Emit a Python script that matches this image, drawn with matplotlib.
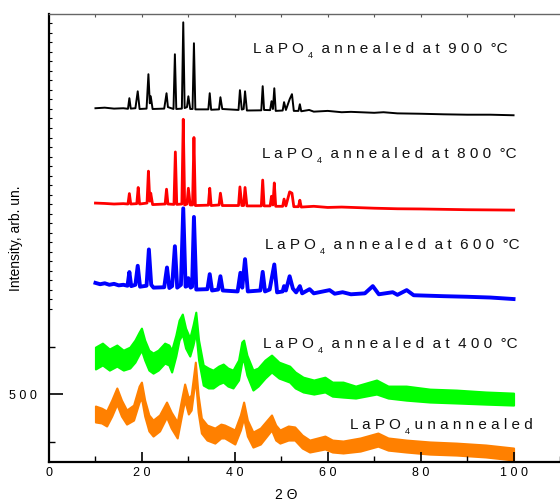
import matplotlib
matplotlib.use("Agg")
import matplotlib.pyplot as plt

plt.rcParams["font.family"] = ["Liberation Sans", "DejaVu Sans"]

# 2theta / intensity (vertices of each trace)
x_900 = [10, 12, 14, 16, 17.0, 17.3, 17.6, 18.6, 19.1, 19.5, 21.0, 21.4, 21.7, 21.9, 22.3,
         24.8, 25.3, 25.6, 26.8, 27.1, 27.4, 28.6, 28.9, 29.2, 29.7, 30.0, 30.4, 30.9,
         31.2, 31.5, 34.3, 34.6, 34.9, 36.6, 36.9, 37.3, 40.8, 41.1, 41.5, 41.9, 42.2,
         42.6, 45.7, 46.0, 46.3, 47.6, 47.9, 48.2, 48.5, 48.8, 50.3, 50.6, 51.0, 51.8,
         52.3, 52.7, 53.7, 54.0, 54.3, 56, 57, 60, 63, 65, 70, 72, 75, 80, 85, 90, 95, 100]
y_900 = [2004, 2007, 2002, 2004, 2001, 2057, 2002, 2004, 2093, 2000, 2002, 2183, 2030, 2067, 2000,
         2002, 2083, 2010, 2000, 2288, 2000, 2002, 2456, 2005, 2010, 2067, 2000, 2000,
         2346, 1998, 1998, 2083, 1996, 1998, 2062, 2000, 1995, 2099, 1997, 2000, 2093,
         1992, 1993, 2120, 1995, 1994, 2041, 2000, 2109, 1990, 1992, 2036, 1995, 2051,
         2078, 1990, 1990, 2025, 1988, 1995, 1986, 1990, 1983, 1985, 1980, 1983, 1977, 1975, 1972, 1970, 1970, 1967]

x_800 = [10, 12, 14, 16, 17.0, 17.3, 17.6, 18.9, 19.2, 19.5, 21.1, 21.4, 21.7, 21.9, 22.3,
         25.0, 25.3, 25.6, 26.9, 27.2, 27.5, 28.6, 28.9, 29.2, 29.7, 30.0, 30.4, 30.9,
         31.2, 31.5, 34.3, 34.6, 34.9, 36.6, 36.9, 37.3, 40.8, 41.1, 41.5, 41.9, 42.2,
         42.6, 45.7, 46.0, 46.3, 47.6, 47.9, 48.2, 48.5, 48.8, 50.3, 50.6, 51.0, 51.8,
         52.3, 52.7, 53.7, 54.0, 54.3, 57, 60, 63, 70, 75, 80, 90, 100]
y_800 = [1505, 1503, 1500, 1502, 1500, 1555, 1500, 1502, 1587, 1500, 1505, 1673, 1515, 1557, 1497,
         1500, 1578, 1500, 1498, 1774, 1498, 1500, 1946, 1495, 1500, 1583, 1495, 1495,
         1850, 1492, 1494, 1583, 1492, 1495, 1557, 1492, 1492, 1590, 1492, 1492, 1587,
         1490, 1490, 1626, 1490, 1490, 1541, 1495, 1611, 1488, 1488, 1526, 1490, 1564,
         1557, 1486, 1486, 1520, 1484, 1488, 1482, 1484, 1478, 1475, 1474, 1470, 1468]

x_600 = [10, 11, 12, 13, 14, 15, 16, 16.9, 17.3, 17.7, 18.6, 19.1, 19.6, 21.0, 21.5, 22.0, 22.5,
         24.8, 25.4, 25.9, 26.5, 27.1, 27.6, 28.4, 28.9, 29.4, 29.8, 30.0, 30.5, 30.8, 31.2,
         31.7, 34.1, 34.6, 35.1, 36.4, 36.9, 37.4, 40.6, 41.2, 41.6, 42.2, 42.8, 45.5, 46.0,
         46.5, 47.5, 48.5, 49.1, 50.3, 50.6, 51.0, 51.8, 52.5, 53.2, 54.0, 54.5, 56.1, 57,
         60.4, 61.5, 63.2, 65, 68, 69.7, 71, 74, 75, 77, 78.5, 85, 90, 95, 100]
y_600 = [1085, 1078, 1083, 1075, 1080, 1072, 1075, 1070, 1142, 1068, 1075, 1175, 1065, 1070, 1261, 1075, 1060,
         1062, 1166, 1058, 1068, 1278, 1060, 1075, 1477, 1065, 1070, 1110, 1060, 1065, 1432,
         1050, 1052, 1131, 1045, 1050, 1120, 1045, 1040, 1138, 1060, 1210, 1040, 1045, 1143,
         1040, 1050, 1182, 1035, 1040, 1068, 1045, 1120, 1055, 1035, 1068, 1030, 1052, 1030,
         1047, 1028, 1036, 1025, 1030, 1068, 1025, 1036, 1022, 1047, 1020, 1015, 1012, 1008, 1000]

# noisy traces: upper / lower edge of the band
x_400 = [10, 11.5, 13, 14.6, 16, 17.4, 18.5, 19.4, 19.9, 20.6, 21.5, 22.4, 23.5, 24.9, 25.8,
         26.4, 27.3, 28.0, 28.7, 29.4, 30.3, 31.0, 31.6, 32.2, 33.2, 34.3, 35.3, 36.5, 37.5,
         38.5, 39.6, 40.8, 41.5, 41.9, 42.6, 43.9, 45.0, 46.5, 47.9, 49.5, 51.8, 53, 54.7,
         57, 59.4, 61, 63.3, 66, 70.5, 73, 76.9, 82, 87.7, 94, 100]
hi_400 = [747, 768, 737, 758, 731, 747, 784, 826, 847, 784, 731, 716, 731, 768, 758,
          731, 810, 889, 921, 847, 795, 863, 931, 784, 653, 637, 626, 647, 658,
          637, 626, 679, 774, 784, 705, 626, 637, 679, 705, 668, 647, 616, 589,
          574, 589, 563, 563, 542, 574, 542, 542, 526, 521, 511, 505]
lo_400 = [632, 653, 626, 647, 626, 637, 668, 710, 731, 679, 626, 610, 626, 663, 653,
          616, 700, 784, 816, 742, 700, 758, 826, 679, 547, 532, 532, 553, 563,
          542, 532, 574, 668, 679, 600, 521, 542, 584, 616, 584, 563, 532, 511,
          500, 511, 489, 484, 479, 500, 479, 468, 458, 453, 447, 442]

x_raw = [10, 11.3, 12.4, 13.5, 14.6, 15.6, 16.7, 18.2, 19.4, 19.9, 20.6, 21.5, 22.4, 23.8,
         25.3, 26.3, 27.6, 28.5, 29.2, 30.0, 30.6, 31.5, 32.1, 32.8, 34, 35.7, 37.0, 37.8,
         40.0, 41.2, 41.9, 42.7, 43.9, 45.5, 47.9, 48.8, 49.7, 51.5, 52.9, 54.5, 56.1, 59.4,
         61, 63.3, 67, 70.8, 73, 76.9, 82, 87.7, 94, 100]
hi_raw = [437, 426, 411, 468, 532, 468, 416, 442, 542, 563, 468, 390, 363, 390,
          458, 405, 353, 468, 553, 479, 495, 668, 495, 374, 337, 321, 342, 337,
          311, 390, 458, 363, 300, 321, 390, 337, 311, 332, 327, 284, 258, 279,
          258, 253, 269, 295, 269, 258, 248, 242, 232, 216]
lo_raw = [353, 348, 332, 384, 447, 384, 342, 363, 458, 479, 384, 306, 279, 306,
          379, 321, 269, 384, 468, 395, 416, 584, 405, 295, 258, 242, 269, 269,
          237, 311, 374, 279, 221, 237, 311, 258, 242, 258, 258, 216, 195, 211,
          195, 190, 200, 226, 205, 195, 184, 179, 169, 153]

labels = ["900", "800", "600", "400"]
label_x = [43.9, 45.8, 46.5, 46.0]
label_y = [2294, 1741, 1263, 742]

x_ticks = [0, 20, 40, 60, 80, 100]
x_minor = [10, 30, 50, 70, 90, 110]
y_ticks = [500]
y_mid = [250, 750]
y_small = list(range(950, 2500, 50))


def spaced(s):
    return " ".join(s)


fig = plt.figure(figsize=(5.6, 4.99), dpi=100)
ax = fig.add_axes([0.0875, 0.0747, 0.9125, 0.8973])
renderer = fig.canvas.get_renderer()

ax.plot(x_900, y_900, color="black", lw=1.4)
ax.plot(x_800, y_800, color="#ff0000", lw=2.0)
ax.plot(x_600, y_600, color="#0000ff", lw=2.8)
ax.fill_between(x_400, lo_400, hi_400, color="#00ff00", lw=1.5, edgecolor="#00ff00")
ax.fill_between(x_raw, lo_raw, hi_raw, color="#ff8000", lw=1.5, edgecolor="#ff8000")


def lapo_label(x, y, rest):
    kw = dict(fontsize=11, color="#111111", va="baseline")
    t1 = ax.text(x, y, "L a P O ", **kw)
    w1 = t1.get_window_extent(renderer).width * 72 / fig.dpi
    t2 = ax.annotate("4", (x, y), xytext=(w1, -3.5), textcoords="offset points",
                     fontsize=6.5, color="#111111", va="baseline")
    w2 = t2.get_window_extent(renderer).width * 72 / fig.dpi
    ax.annotate(rest, (x, y), xytext=(w1 + w2, 0), textcoords="offset points", **kw)


for t, lx, ly in zip(labels, label_x, label_y):
    lapo_label(lx, ly, "  a n n e a l e d  a t  " + spaced(t) + "  °C")
lapo_label(64.7, 316, "  u n a n n e a l e d")

ax.set_xlim(0, 110)
ax.set_ylim(144, 2500)

ax.set_xticks(x_ticks, [spaced(str(v)) for v in x_ticks])
ax.set_xticks(x_minor, minor=True)
ax.set_yticks(y_ticks, [spaced(str(v)) for v in y_ticks])
ax.set_yticks(y_mid, minor=True)
ax.tick_params(axis="both", which="major", direction="in", length=7, width=1.2,
               labelsize=9, top=False)
ax.tick_params(axis="both", which="minor", direction="in", length=4, width=1.0, top=False)
ax.tick_params(axis="y", which="major", length=10, pad=9)

sec = ax.secondary_yaxis("left")
sec.set_yticks(y_small, labels=[])
sec.tick_params(direction="in", length=2.5, width=0.8)
sec.spines["left"].set_visible(False)

top = ax.secondary_xaxis("top")
top.set_xticks(x_minor[:-1] + x_ticks[1:], labels=[])
top.tick_params(direction="in", length=2.5, width=0.8, color="#555555")
top.spines["top"].set_visible(False)

for s in ["left", "bottom"]:
    ax.spines[s].set_linewidth(1.6)
ax.spines["top"].set_color("#666666")
ax.spines["top"].set_linewidth(1.0)
ax.spines["right"].set_visible(False)

ax.set_ylabel("Intensity, arb. un.", fontsize=10)
ax.yaxis.set_label_coords(-0.05, 0.5)
ax.set_xlabel("2 Θ", fontsize=10, va="top")
ax.xaxis.set_label_coords(0.465, -0.058)

fig.savefig("out.png", dpi=100)
